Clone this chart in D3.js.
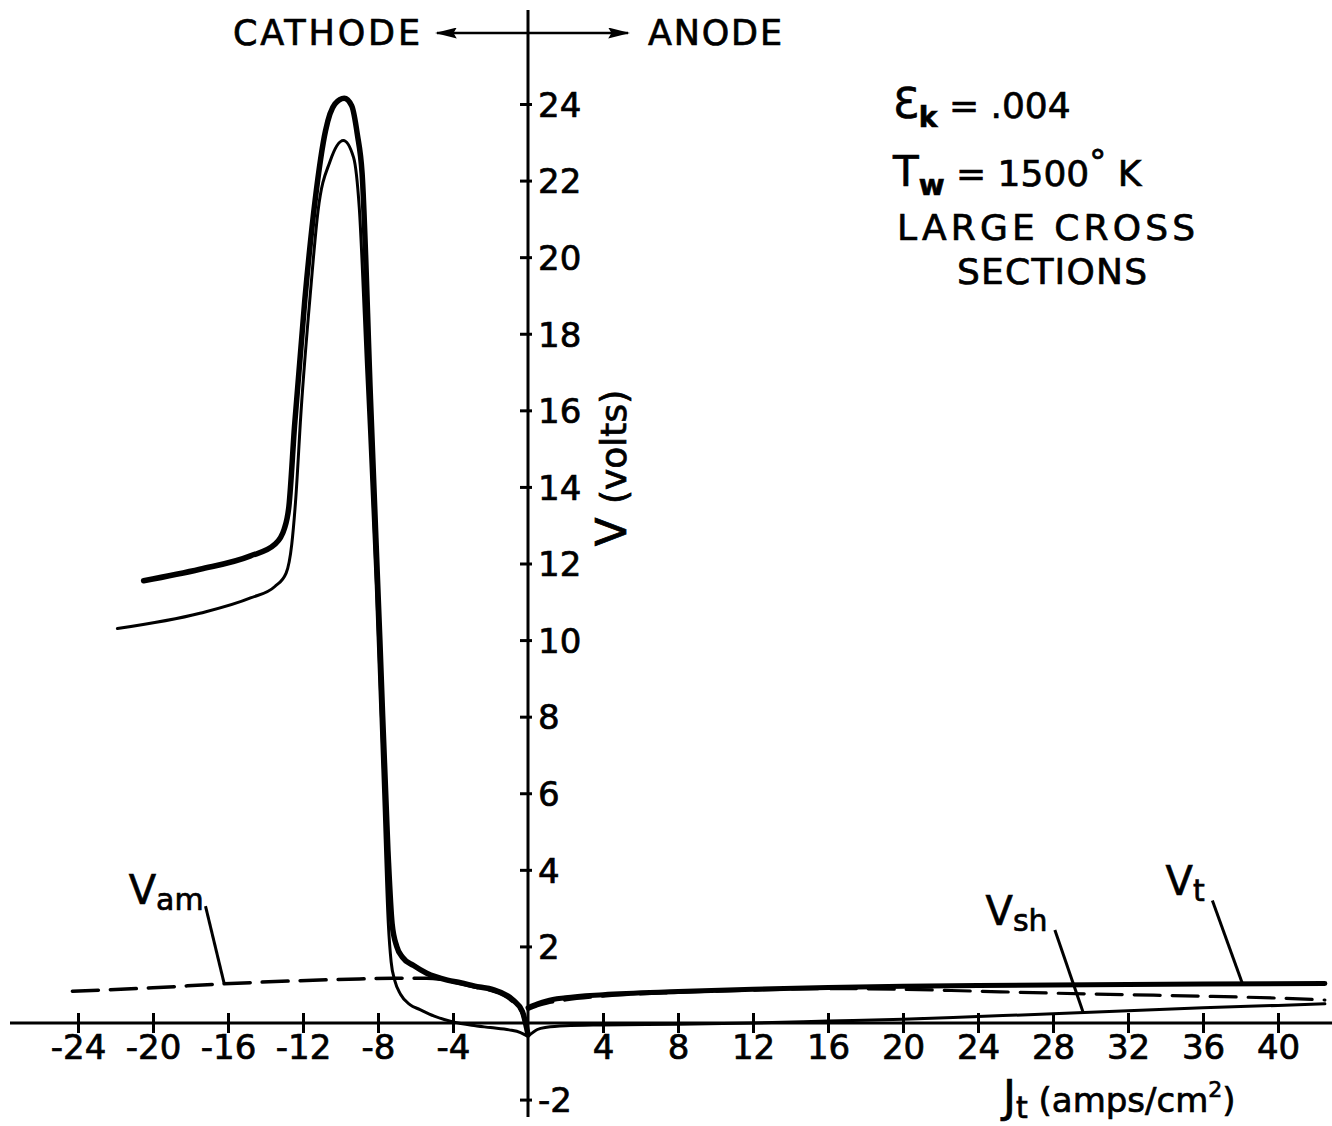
<!DOCTYPE html>
<html><head><meta charset="utf-8">
<script src="https://cdn.jsdelivr.net/npm/d3@7"></script>
<style>
body{margin:0;background:#fff}
svg{display:block}
text{font-family:"DejaVu Sans",sans-serif;fill:#000;stroke:#000;stroke-width:0.7px}
</style>
</head><body>
<script>
// ---------- data ----------
const xTicks = [-24,-20,-16,-12,-8,-4,4,8,12,16,20,24,28,32,36,40];
const yTicks = [-2,2,4,6,8,10,12,14,16,18,20,22,24];

// total voltage V_t, cathode side (thick)
const vtCathode = [[-20.5,11.55],[-17.5,11.85],[-14.8,12.2],[-13.5,12.5],[-13.0,12.9],[-12.75,13.5],
  [-12.45,15.6],[-11.9,18.9],[-11.35,21.5],[-10.8,23.3],[-10.3,24.0],[-9.8,24.15],[-9.4,23.95],
  [-9.1,23.2],[-8.85,22.2],[-8.4,16.3],[-7.9,10.0],[-7.47,4.5],[-7.25,2.6],[-7.0,2.0],[-6.7,1.72],
  [-6.1,1.5],[-5.4,1.3],[-4.3,1.12],[-3.6,1.05],[-2.6,0.94],[-1.9,0.88],[-0.8,0.6],[-0.3,0.3],[0,-0.3]];
// sheath voltage V_sh, cathode side (thin)
const vshCathode = [[-21.9,10.3],[-17.5,10.7],[-14.8,11.1],[-13.5,11.4],[-12.9,11.75],[-12.6,12.5],
  [-12.4,13.6],[-12.1,16.0],[-11.6,19.1],[-11.2,21.2],[-10.56,22.5],[-9.85,23.05],[-9.3,22.6],
  [-9.0,21.3],[-8.6,17.0],[-8.1,11.5],[-7.7,6.0],[-7.45,2.6],[-7.3,1.6],[-7.1,1.1],[-6.8,0.75],
  [-6.3,0.48],[-5.76,0.35],[-5.0,0.18],[-4.0,0.03],[-3.0,-0.06],[-2.0,-0.12],[-1.0,-0.18],[-0.4,-0.25],[0,-0.35]];
// ambipolar voltage V_am, cathode side (dashed)
const vamCathode = [[-24.3,0.83],[-20,0.92],[-16.3,1.02],[-12.5,1.1],[-9,1.15],[-7.2,1.17],[-5.4,1.17],
  [-4.4,1.12],[-3.6,1.03],[-2.6,0.91],[-1.9,0.84],[-0.8,0.55],[-0.3,0.25],[0,-0.3]];

// anode side
const vtAnode = [[0,0.4],[0.5,0.5],[1,0.58],[2,0.66],[4,0.74],[8,0.82],[12,0.88],[16,0.93],[20,0.96],
  [24,0.98],[30,1.0],[36,1.02],[42.5,1.03]];
const vamAnode = [[0,0.35],[0.5,0.45],[1,0.52],[2,0.6],[4,0.7],[8,0.8],[12,0.86],[16,0.9],[20,0.88],
  [24,0.83],[28,0.78],[32,0.74],[36,0.7],[40,0.65],[42.5,0.6]];
const vshAnode = [[0,-0.35],[0.5,-0.17],[1,-0.11],[2,-0.07],[4,-0.05],[8,-0.03],[12,0.0],[16,0.05],
  [20,0.1],[24,0.17],[28,0.24],[32,0.32],[36,0.4],[40,0.46],[42.5,0.5]];

// ---------- layout ----------
const W = 1332, H = 1126;
const x = d3.scaleLinear().domain([-24, 40]).range([78, 1278]);
const y = d3.scaleLinear().domain([0, 24]).range([1023, 104]);

const svg = d3.select("body").append("svg").attr("width", W).attr("height", H)
  .style("background", "#fff");

const line = d3.line().x(d => x(d[0])).y(d => y(d[1])).curve(d3.curveMonotoneX);

// axes lines
svg.append("line").attr("x1", 10).attr("x2", W).attr("y1", y(0)).attr("y2", y(0))
  .attr("stroke", "#000").attr("stroke-width", 3);
svg.append("line").attr("x1", x(0)).attr("x2", x(0)).attr("y1", 10).attr("y2", 1117)
  .attr("stroke", "#000").attr("stroke-width", 3);

// x axis ticks
const xAxis = d3.axisBottom(x).tickValues(xTicks).tickSize(0).tickFormat(d => String(d));
const gx = svg.append("g").attr("transform", `translate(0,${y(0)})`).call(xAxis);
gx.select(".domain").remove();
gx.selectAll(".tick line").attr("y1", -10).attr("y2", 10).attr("stroke", "#000").attr("stroke-width", 3);
gx.selectAll(".tick text").attr("y", 36).attr("dy", 0).attr("font-size", 34)
  .attr("font-family", "DejaVu Sans").attr("fill", "#000");

// y axis ticks
const yAxis = d3.axisRight(y).tickValues(yTicks).tickSize(0).tickFormat(d => String(d));
const gy = svg.append("g").attr("transform", `translate(${x(0)},0)`).call(yAxis);
gy.select(".domain").remove();
gy.selectAll(".tick line").attr("x1", -8).attr("x2", 4).attr("stroke", "#000").attr("stroke-width", 3);
gy.selectAll(".tick text").attr("x", 10).attr("dy", "0.36em").attr("font-size", 34)
  .attr("font-family", "DejaVu Sans").attr("fill", "#000").attr("text-anchor", "start");

// curves
const curves = [
  {d: vamCathode, w: 3.5, dash: "26,12"},
  {d: vamAnode, w: 3.2, dash: "26,12"},
  {d: vshCathode, w: 3, dash: null},
  {d: vshAnode, w: 3, dash: null},
  {d: vtCathode, w: 5.5, dash: null},
  {d: vtAnode, w: 5, dash: null}
];
curves.forEach(c => {
  svg.append("path").attr("d", line(c.d)).attr("fill", "none").attr("stroke", "#000")
    .attr("stroke-width", c.w).attr("stroke-linecap", "round").attr("stroke-linejoin", "round")
    .attr("stroke-dasharray", c.dash);
});

// series labels with leader lines (positions in data units)
const seriesLabels = [
  {main: "V", sub: "am", at: [-21.3, 3.1], lead: [[-17.2, 3.05], [-16.2, 1.02]]},
  {main: "V", sub: "sh", at: [24.4, 2.55], lead: [[28.1, 2.43], [29.6, 0.29]]},
  {main: "V", sub: "t",  at: [34.0, 3.35], lead: [[36.5, 3.2], [38.1, 1.03]]}
];
seriesLabels.forEach(s => {
  const t = svg.append("text").attr("x", x(s.at[0])).attr("y", y(s.at[1])).attr("font-size", 40);
  t.append("tspan").text(s.main);
  t.append("tspan").attr("font-size", 30).attr("dy", 6).text(s.sub);
  svg.append("line").attr("x1", x(s.lead[0][0])).attr("y1", y(s.lead[0][1]))
    .attr("x2", x(s.lead[1][0])).attr("y2", y(s.lead[1][1]))
    .attr("stroke", "#000").attr("stroke-width", 3);
});

// cathode / anode header
svg.append("text").attr("x", 233).attr("y", 45).attr("font-size", 35)
  .attr("textLength", 187).attr("lengthAdjust", "spacing").text("CATHODE");
svg.append("text").attr("x", 648).attr("y", 45).attr("font-size", 35)
  .attr("textLength", 134).attr("lengthAdjust", "spacing").text("ANODE");
const defs = svg.append("defs");
defs.append("marker").attr("id", "ah").attr("viewBox", "0 0 20 10").attr("refX", 18).attr("refY", 5)
  .attr("markerWidth", 22).attr("markerHeight", 11).attr("markerUnits", "userSpaceOnUse")
  .attr("preserveAspectRatio", "none")
  .attr("orient", "auto-start-reverse")
  .append("path").attr("d", "M0,0 L20,5 L0,10 L3,5 Z").attr("fill", "#000");
svg.append("line").attr("x1", 437).attr("x2", 628).attr("y1", 33).attr("y2", 33)
  .attr("stroke", "#000").attr("stroke-width", 2.5)
  .attr("marker-start", "url(#ah)").attr("marker-end", "url(#ah)");

// parameter block
const p1 = svg.append("text").attr("x", 893).attr("y", 118).attr("font-size", 42);
p1.append("tspan").text("Ɛ");
p1.append("tspan").attr("font-size", 28).attr("font-weight", "bold").attr("dy", 9).text("k");
p1.append("tspan").attr("dy", -9).attr("font-size", 36).text(" = .004");
const p2 = svg.append("text").attr("x", 893).attr("y", 186).attr("font-size", 42);
p2.append("tspan").text("T");
p2.append("tspan").attr("font-size", 28).attr("font-weight", "bold").attr("dy", 9).text("w");
p2.append("tspan").attr("dy", -9).attr("font-size", 36).text(" = 1500");
p2.append("tspan").attr("font-size", 34).attr("dy", -12).text("°");
p2.append("tspan").attr("font-size", 36).attr("dy", 12).text(" K");
svg.append("text").attr("x", 897).attr("y", 240).attr("font-size", 36)
  .attr("textLength", 298).attr("lengthAdjust", "spacing").text("LARGE  CROSS");
svg.append("text").attr("x", 957).attr("y", 284).attr("font-size", 36)
  .attr("textLength", 190).attr("lengthAdjust", "spacing").text("SECTIONS");

// axis titles
const yt = svg.append("text").attr("transform", "translate(626,468) rotate(-90)")
  .attr("text-anchor", "middle").attr("font-size", 42);
yt.append("tspan").text("V ");
yt.append("tspan").attr("font-size", 36).text("(volts)");

const xt = svg.append("text").attr("x", 1003).attr("y", 1112).attr("font-size", 44);
xt.append("tspan").text("J");
xt.append("tspan").attr("font-size", 30).attr("dy", 6).text("t");
xt.append("tspan").attr("font-size", 34).attr("dy", -6).text(" (amps/cm");
xt.append("tspan").attr("font-size", 22).attr("dy", -15).text("2");
xt.append("tspan").attr("font-size", 34).attr("dy", 15).text(")");
</script>
</body></html>
